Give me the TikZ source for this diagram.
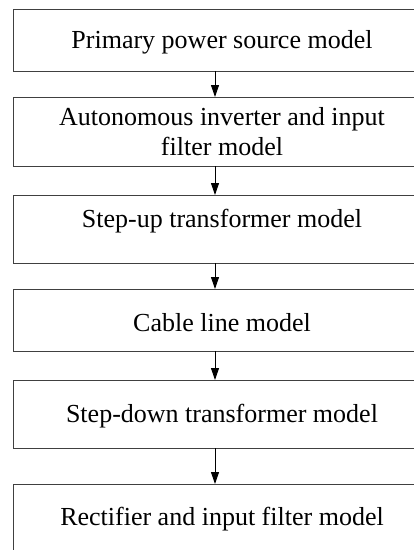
\documentclass[tikz,border=0pt]{standalone}
\usepackage{fontspec}
\setmainfont{Liberation Serif}
\usetikzlibrary{arrows.meta}
\begin{document}
\begin{tikzpicture}[x=1pt,y=-1pt,
  box/.style={draw=black!75,line width=1pt,rectangle,minimum width=415pt,inner sep=0pt,outer sep=0pt},
  txt/.style={font=\fontsize{26}{30}\selectfont,anchor=base,inner sep=0pt},
  flow/.style={line width=1pt,-{Triangle[length=12pt,width=8pt]}}]
\useasboundingbox (0,0) rectangle (414,550);
\fill[white] (0,0) rectangle (414,550);
\coordinate (ax) at (215,0);
\node[box,minimum height=62pt] (b1) at (220.5,40) {};
\node[box,minimum height=69pt] (b2) at (220.5,131.5) {};
\node[box,minimum height=68pt] (b3) at (220.5,229) {};
\node[box,minimum height=62pt] (b4) at (220.5,320) {};
\node[box,minimum height=68pt] (b5) at (220.5,414) {};
\node[box,minimum height=68pt] (b6) at (220.5,518) {};
\node[txt] (t1) at (222,48.5) {Primary power source model};
\node[txt] (t2a) at (222,125) {Autonomous inverter and input};
\node[txt] (t2b) at (222,155) {filter model};
\node[txt] (t3) at (222,227) {Step-up transformer model};
\node[txt] (t4) at (222,331) {Cable line model};
\node[txt] (t5) at (222,422) {Step-down transformer model};
\node[txt] (t6) at (222,525) {Rectifier and input filter model};
\draw[flow] (b1.south -| ax) -- (b2.north -| ax);
\draw[flow] (b2.south -| ax) -- (b3.north -| ax);
\draw[flow] (b3.south -| ax) -- (b4.north -| ax);
\draw[flow] (b4.south -| ax) -- (b5.north -| ax);
\draw[flow] (b5.south -| ax) -- (b6.north -| ax);
\end{tikzpicture}
\end{document}
